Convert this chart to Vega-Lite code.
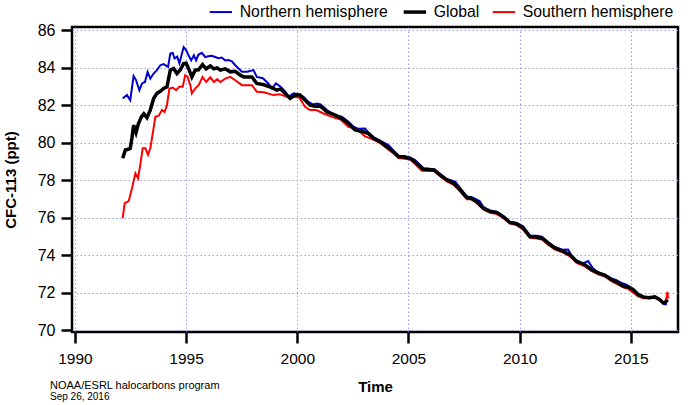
{
  "$schema": "https://vega.github.io/schema/vega-lite/v6.json",
  "width": 606,
  "height": 305,
  "autosize": {"type": "none"},
  "padding": {"left": 72, "top": 27, "right": 17, "bottom": 73},
  "config": {
    "font": "Liberation Sans",
    "view": {"stroke": "black", "strokeWidth": 2.5},
    "axis": {
      "domain": false,
      "tickColor": "black",
      "tickWidth": 2.5,
      "tickSize": 11,
      "labelColor": "black",
      "labelFont": "Liberation Sans",
      "titleFont": "Liberation Sans",
      "titleColor": "black",
      "titleFontWeight": "bold",
      "titleFontSize": 15,
      "grid": true,
      "gridColor": "#9a9af2",
      "gridWidth": 1,
      "gridDash": [1.5, 2.5]
    },
    "legend": {"padding": 0}
  },
  "title": {
    "text": "NOAA/ESRL halocarbons program",
    "subtitle": "Sep 26, 2016",
    "orient": "bottom",
    "anchor": "start",
    "frame": "group",
    "font": "Liberation Sans",
    "subtitleFont": "Liberation Sans",
    "fontSize": 11,
    "fontWeight": "normal",
    "subtitleFontSize": 10,
    "subtitlePadding": 1,
    "color": "black",
    "subtitleColor": "black",
    "dx": -22,
    "dy": -19
  },
  "data": {
    "values": [
      {"t": 1992.15, "s": "Northern hemisphere", "v": 82.37},
      {"t": 1992.34, "s": "Northern hemisphere", "v": 82.55},
      {"t": 1992.49, "s": "Northern hemisphere", "v": 82.28},
      {"t": 1992.64, "s": "Northern hemisphere", "v": 83.57},
      {"t": 1992.75, "s": "Northern hemisphere", "v": 83.35},
      {"t": 1992.9, "s": "Northern hemisphere", "v": 82.81},
      {"t": 1993.02, "s": "Northern hemisphere", "v": 83.17},
      {"t": 1993.15, "s": "Northern hemisphere", "v": 83.25},
      {"t": 1993.27, "s": "Northern hemisphere", "v": 83.79},
      {"t": 1993.39, "s": "Northern hemisphere", "v": 83.43},
      {"t": 1993.54, "s": "Northern hemisphere", "v": 83.7},
      {"t": 1993.69, "s": "Northern hemisphere", "v": 83.88},
      {"t": 1993.84, "s": "Northern hemisphere", "v": 84.14},
      {"t": 1993.99, "s": "Northern hemisphere", "v": 84.2},
      {"t": 1994.19, "s": "Northern hemisphere", "v": 84.05},
      {"t": 1994.29, "s": "Northern hemisphere", "v": 84.76},
      {"t": 1994.4, "s": "Northern hemisphere", "v": 84.8},
      {"t": 1994.48, "s": "Northern hemisphere", "v": 84.5},
      {"t": 1994.6, "s": "Northern hemisphere", "v": 84.6},
      {"t": 1994.7, "s": "Northern hemisphere", "v": 84.25},
      {"t": 1994.8, "s": "Northern hemisphere", "v": 84.7},
      {"t": 1994.89, "s": "Northern hemisphere", "v": 85.11},
      {"t": 1995.0, "s": "Northern hemisphere", "v": 84.95},
      {"t": 1995.11, "s": "Northern hemisphere", "v": 84.67},
      {"t": 1995.23, "s": "Northern hemisphere", "v": 84.4},
      {"t": 1995.35, "s": "Northern hemisphere", "v": 84.67},
      {"t": 1995.45, "s": "Northern hemisphere", "v": 84.4},
      {"t": 1995.55, "s": "Northern hemisphere", "v": 84.7},
      {"t": 1995.71, "s": "Northern hemisphere", "v": 84.8},
      {"t": 1995.86, "s": "Northern hemisphere", "v": 84.58},
      {"t": 1996.0, "s": "Northern hemisphere", "v": 84.62},
      {"t": 1996.15, "s": "Northern hemisphere", "v": 84.65},
      {"t": 1996.31, "s": "Northern hemisphere", "v": 84.58},
      {"t": 1996.45, "s": "Northern hemisphere", "v": 84.52},
      {"t": 1996.6, "s": "Northern hemisphere", "v": 84.55},
      {"t": 1996.76, "s": "Northern hemisphere", "v": 84.4},
      {"t": 1996.9, "s": "Northern hemisphere", "v": 84.42},
      {"t": 1997.06, "s": "Northern hemisphere", "v": 84.35},
      {"t": 1997.21, "s": "Northern hemisphere", "v": 84.14},
      {"t": 1997.51, "s": "Northern hemisphere", "v": 83.79},
      {"t": 1997.75, "s": "Northern hemisphere", "v": 83.8},
      {"t": 1998.03, "s": "Northern hemisphere", "v": 83.88},
      {"t": 1998.18, "s": "Northern hemisphere", "v": 83.52},
      {"t": 1998.45, "s": "Northern hemisphere", "v": 83.45},
      {"t": 1998.7, "s": "Northern hemisphere", "v": 83.17},
      {"t": 1998.86, "s": "Northern hemisphere", "v": 82.9},
      {"t": 1999.04, "s": "Northern hemisphere", "v": 83.17},
      {"t": 1999.25, "s": "Northern hemisphere", "v": 83.0},
      {"t": 1999.46, "s": "Northern hemisphere", "v": 82.73},
      {"t": 1999.61, "s": "Northern hemisphere", "v": 82.46},
      {"t": 1999.83, "s": "Northern hemisphere", "v": 82.64},
      {"t": 2000.05, "s": "Northern hemisphere", "v": 82.6},
      {"t": 2000.28, "s": "Northern hemisphere", "v": 82.46},
      {"t": 2000.5, "s": "Northern hemisphere", "v": 82.19},
      {"t": 2000.7, "s": "Northern hemisphere", "v": 82.05},
      {"t": 2000.88, "s": "Northern hemisphere", "v": 82.1},
      {"t": 2001.05, "s": "Northern hemisphere", "v": 82.05},
      {"t": 2001.33, "s": "Northern hemisphere", "v": 81.75},
      {"t": 2001.7, "s": "Northern hemisphere", "v": 81.48},
      {"t": 2002.0, "s": "Northern hemisphere", "v": 81.4},
      {"t": 2002.3, "s": "Northern hemisphere", "v": 81.13},
      {"t": 2002.53, "s": "Northern hemisphere", "v": 80.86},
      {"t": 2002.75, "s": "Northern hemisphere", "v": 80.75},
      {"t": 2003.05, "s": "Northern hemisphere", "v": 80.77},
      {"t": 2003.2, "s": "Northern hemisphere", "v": 80.55},
      {"t": 2003.45, "s": "Northern hemisphere", "v": 80.3},
      {"t": 2003.72, "s": "Northern hemisphere", "v": 80.12},
      {"t": 2004.1, "s": "Northern hemisphere", "v": 79.89},
      {"t": 2004.32, "s": "Northern hemisphere", "v": 79.6},
      {"t": 2004.55, "s": "Northern hemisphere", "v": 79.32},
      {"t": 2004.8, "s": "Northern hemisphere", "v": 79.3},
      {"t": 2005.07, "s": "Northern hemisphere", "v": 79.22},
      {"t": 2005.3, "s": "Northern hemisphere", "v": 79.09},
      {"t": 2005.67, "s": "Northern hemisphere", "v": 78.65},
      {"t": 2006.15, "s": "Northern hemisphere", "v": 78.6},
      {"t": 2006.42, "s": "Northern hemisphere", "v": 78.35},
      {"t": 2006.72, "s": "Northern hemisphere", "v": 78.08},
      {"t": 2007.1, "s": "Northern hemisphere", "v": 77.94},
      {"t": 2007.32, "s": "Northern hemisphere", "v": 77.6},
      {"t": 2007.62, "s": "Northern hemisphere", "v": 77.15},
      {"t": 2007.85, "s": "Northern hemisphere", "v": 77.1},
      {"t": 2008.2, "s": "Northern hemisphere", "v": 76.9},
      {"t": 2008.37, "s": "Northern hemisphere", "v": 76.58},
      {"t": 2008.67, "s": "Northern hemisphere", "v": 76.4},
      {"t": 2009.0, "s": "Northern hemisphere", "v": 76.32},
      {"t": 2009.26, "s": "Northern hemisphere", "v": 76.1},
      {"t": 2009.56, "s": "Northern hemisphere", "v": 75.8},
      {"t": 2009.86, "s": "Northern hemisphere", "v": 75.73},
      {"t": 2010.16, "s": "Northern hemisphere", "v": 75.55},
      {"t": 2010.46, "s": "Northern hemisphere", "v": 75.06},
      {"t": 2010.76, "s": "Northern hemisphere", "v": 75.05},
      {"t": 2011.0, "s": "Northern hemisphere", "v": 75.0},
      {"t": 2011.28, "s": "Northern hemisphere", "v": 74.72},
      {"t": 2011.58, "s": "Northern hemisphere", "v": 74.45},
      {"t": 2011.96, "s": "Northern hemisphere", "v": 74.3},
      {"t": 2012.18, "s": "Northern hemisphere", "v": 74.32},
      {"t": 2012.4, "s": "Northern hemisphere", "v": 73.85},
      {"t": 2012.56, "s": "Northern hemisphere", "v": 73.72},
      {"t": 2012.85, "s": "Northern hemisphere", "v": 73.58},
      {"t": 2013.08, "s": "Northern hemisphere", "v": 73.7},
      {"t": 2013.3, "s": "Northern hemisphere", "v": 73.3},
      {"t": 2013.53, "s": "Northern hemisphere", "v": 73.1},
      {"t": 2013.83, "s": "Northern hemisphere", "v": 72.98},
      {"t": 2014.13, "s": "Northern hemisphere", "v": 72.78},
      {"t": 2014.35, "s": "Northern hemisphere", "v": 72.68},
      {"t": 2014.55, "s": "Northern hemisphere", "v": 72.55},
      {"t": 2014.8, "s": "Northern hemisphere", "v": 72.45},
      {"t": 2015.11, "s": "Northern hemisphere", "v": 72.2},
      {"t": 2015.33, "s": "Northern hemisphere", "v": 71.95},
      {"t": 2015.56, "s": "Northern hemisphere", "v": 71.8},
      {"t": 2015.8, "s": "Northern hemisphere", "v": 71.76},
      {"t": 2016.08, "s": "Northern hemisphere", "v": 71.8},
      {"t": 2016.3, "s": "Northern hemisphere", "v": 71.62},
      {"t": 2016.5, "s": "Northern hemisphere", "v": 71.4},
      {"t": 2016.62, "s": "Northern hemisphere", "v": 71.4},
      {"t": 1992.15, "s": "Southern hemisphere", "v": 75.99},
      {"t": 1992.24, "s": "Southern hemisphere", "v": 76.79},
      {"t": 1992.42, "s": "Southern hemisphere", "v": 76.9},
      {"t": 1992.57, "s": "Southern hemisphere", "v": 77.59},
      {"t": 1992.72, "s": "Southern hemisphere", "v": 78.38},
      {"t": 1992.84, "s": "Southern hemisphere", "v": 78.12},
      {"t": 1992.94, "s": "Southern hemisphere", "v": 78.83},
      {"t": 1993.05, "s": "Southern hemisphere", "v": 79.71},
      {"t": 1993.17, "s": "Southern hemisphere", "v": 79.71},
      {"t": 1993.29, "s": "Southern hemisphere", "v": 79.36},
      {"t": 1993.4, "s": "Southern hemisphere", "v": 79.75},
      {"t": 1993.5, "s": "Southern hemisphere", "v": 80.51},
      {"t": 1993.62, "s": "Southern hemisphere", "v": 81.39},
      {"t": 1993.77, "s": "Southern hemisphere", "v": 81.45},
      {"t": 1993.92, "s": "Southern hemisphere", "v": 81.75},
      {"t": 1994.03, "s": "Southern hemisphere", "v": 81.65},
      {"t": 1994.14, "s": "Southern hemisphere", "v": 82.01},
      {"t": 1994.25, "s": "Southern hemisphere", "v": 82.9},
      {"t": 1994.4, "s": "Southern hemisphere", "v": 82.95},
      {"t": 1994.55, "s": "Southern hemisphere", "v": 82.81},
      {"t": 1994.7, "s": "Southern hemisphere", "v": 83.0},
      {"t": 1994.85, "s": "Southern hemisphere", "v": 83.0},
      {"t": 1994.96, "s": "Southern hemisphere", "v": 83.61},
      {"t": 1995.07, "s": "Southern hemisphere", "v": 83.52},
      {"t": 1995.19, "s": "Southern hemisphere", "v": 83.08},
      {"t": 1995.26, "s": "Southern hemisphere", "v": 82.64},
      {"t": 1995.41, "s": "Southern hemisphere", "v": 82.9},
      {"t": 1995.58, "s": "Southern hemisphere", "v": 83.1},
      {"t": 1995.74, "s": "Southern hemisphere", "v": 83.52},
      {"t": 1995.9, "s": "Southern hemisphere", "v": 83.25},
      {"t": 1996.09, "s": "Southern hemisphere", "v": 83.5},
      {"t": 1996.25, "s": "Southern hemisphere", "v": 83.25},
      {"t": 1996.4, "s": "Southern hemisphere", "v": 83.4},
      {"t": 1996.54, "s": "Southern hemisphere", "v": 83.25},
      {"t": 1996.76, "s": "Southern hemisphere", "v": 83.43},
      {"t": 1996.99, "s": "Southern hemisphere", "v": 83.52},
      {"t": 1997.21, "s": "Southern hemisphere", "v": 83.34},
      {"t": 1997.51, "s": "Southern hemisphere", "v": 83.08},
      {"t": 1997.96, "s": "Southern hemisphere", "v": 83.08},
      {"t": 1998.18, "s": "Southern hemisphere", "v": 82.73},
      {"t": 1998.5, "s": "Southern hemisphere", "v": 82.7},
      {"t": 1998.93, "s": "Southern hemisphere", "v": 82.55},
      {"t": 1999.2, "s": "Southern hemisphere", "v": 82.6},
      {"t": 1999.53, "s": "Southern hemisphere", "v": 82.46},
      {"t": 1999.9, "s": "Southern hemisphere", "v": 82.46},
      {"t": 2000.1, "s": "Southern hemisphere", "v": 82.4},
      {"t": 2000.35, "s": "Southern hemisphere", "v": 81.92},
      {"t": 2000.57, "s": "Southern hemisphere", "v": 81.75},
      {"t": 2000.85, "s": "Southern hemisphere", "v": 81.75},
      {"t": 2001.18, "s": "Southern hemisphere", "v": 81.57},
      {"t": 2001.55, "s": "Southern hemisphere", "v": 81.39},
      {"t": 2001.95, "s": "Southern hemisphere", "v": 81.25},
      {"t": 2002.3, "s": "Southern hemisphere", "v": 80.86},
      {"t": 2002.55, "s": "Southern hemisphere", "v": 80.78},
      {"t": 2002.75, "s": "Southern hemisphere", "v": 80.65},
      {"t": 2003.05, "s": "Southern hemisphere", "v": 80.35},
      {"t": 2003.42, "s": "Southern hemisphere", "v": 80.18},
      {"t": 2003.72, "s": "Southern hemisphere", "v": 80.0},
      {"t": 2004.02, "s": "Southern hemisphere", "v": 79.72},
      {"t": 2004.32, "s": "Southern hemisphere", "v": 79.45},
      {"t": 2004.55, "s": "Southern hemisphere", "v": 79.2},
      {"t": 2004.85, "s": "Southern hemisphere", "v": 79.15},
      {"t": 2005.1, "s": "Southern hemisphere", "v": 79.1},
      {"t": 2005.37, "s": "Southern hemisphere", "v": 78.8},
      {"t": 2005.6, "s": "Southern hemisphere", "v": 78.52},
      {"t": 2006.15, "s": "Southern hemisphere", "v": 78.5},
      {"t": 2006.42, "s": "Southern hemisphere", "v": 78.22},
      {"t": 2006.72, "s": "Southern hemisphere", "v": 77.95},
      {"t": 2007.02, "s": "Southern hemisphere", "v": 77.78},
      {"t": 2007.32, "s": "Southern hemisphere", "v": 77.42},
      {"t": 2007.62, "s": "Southern hemisphere", "v": 77.0},
      {"t": 2007.85, "s": "Southern hemisphere", "v": 77.0},
      {"t": 2008.07, "s": "Southern hemisphere", "v": 76.8},
      {"t": 2008.37, "s": "Southern hemisphere", "v": 76.45},
      {"t": 2008.67, "s": "Southern hemisphere", "v": 76.28},
      {"t": 2008.95, "s": "Southern hemisphere", "v": 76.22},
      {"t": 2009.26, "s": "Southern hemisphere", "v": 76.0},
      {"t": 2009.56, "s": "Southern hemisphere", "v": 75.7},
      {"t": 2009.86, "s": "Southern hemisphere", "v": 75.62},
      {"t": 2010.16, "s": "Southern hemisphere", "v": 75.38},
      {"t": 2010.46, "s": "Southern hemisphere", "v": 74.94},
      {"t": 2010.76, "s": "Southern hemisphere", "v": 74.9},
      {"t": 2011.0, "s": "Southern hemisphere", "v": 74.85},
      {"t": 2011.28, "s": "Southern hemisphere", "v": 74.58},
      {"t": 2011.58, "s": "Southern hemisphere", "v": 74.33},
      {"t": 2011.96, "s": "Southern hemisphere", "v": 74.15},
      {"t": 2012.26, "s": "Southern hemisphere", "v": 73.95},
      {"t": 2012.56, "s": "Southern hemisphere", "v": 73.6},
      {"t": 2012.93, "s": "Southern hemisphere", "v": 73.42},
      {"t": 2013.23, "s": "Southern hemisphere", "v": 73.18},
      {"t": 2013.53, "s": "Southern hemisphere", "v": 73.0},
      {"t": 2013.83, "s": "Southern hemisphere", "v": 72.88},
      {"t": 2014.13, "s": "Southern hemisphere", "v": 72.63},
      {"t": 2014.43, "s": "Southern hemisphere", "v": 72.45},
      {"t": 2014.66, "s": "Southern hemisphere", "v": 72.3},
      {"t": 2014.88, "s": "Southern hemisphere", "v": 72.22},
      {"t": 2015.11, "s": "Southern hemisphere", "v": 72.02},
      {"t": 2015.33, "s": "Southern hemisphere", "v": 71.82},
      {"t": 2015.56, "s": "Southern hemisphere", "v": 71.72},
      {"t": 2015.8, "s": "Southern hemisphere", "v": 71.72},
      {"t": 2016.08, "s": "Southern hemisphere", "v": 71.75},
      {"t": 2016.3, "s": "Southern hemisphere", "v": 71.6},
      {"t": 2016.45, "s": "Southern hemisphere", "v": 71.52},
      {"t": 2016.58, "s": "Southern hemisphere", "v": 71.55},
      {"t": 2016.64, "s": "Southern hemisphere", "v": 72.06},
      {"t": 2016.68, "s": "Southern hemisphere", "v": 71.7},
      {"t": 1992.15, "s": "Global", "v": 79.18},
      {"t": 1992.27, "s": "Global", "v": 79.62},
      {"t": 1992.4, "s": "Global", "v": 79.66},
      {"t": 1992.49, "s": "Global", "v": 79.71},
      {"t": 1992.57, "s": "Global", "v": 80.3},
      {"t": 1992.64, "s": "Global", "v": 80.95},
      {"t": 1992.75, "s": "Global", "v": 80.55},
      {"t": 1992.85, "s": "Global", "v": 81.0},
      {"t": 1992.99, "s": "Global", "v": 81.39},
      {"t": 1993.1, "s": "Global", "v": 81.55},
      {"t": 1993.24, "s": "Global", "v": 81.35},
      {"t": 1993.39, "s": "Global", "v": 81.75},
      {"t": 1993.54, "s": "Global", "v": 82.37},
      {"t": 1993.69, "s": "Global", "v": 82.64},
      {"t": 1993.84, "s": "Global", "v": 82.75},
      {"t": 1993.99, "s": "Global", "v": 82.9},
      {"t": 1994.14, "s": "Global", "v": 82.99},
      {"t": 1994.29, "s": "Global", "v": 83.88},
      {"t": 1994.44, "s": "Global", "v": 83.97},
      {"t": 1994.59, "s": "Global", "v": 83.7},
      {"t": 1994.74, "s": "Global", "v": 83.9},
      {"t": 1994.89, "s": "Global", "v": 84.23},
      {"t": 1995.0, "s": "Global", "v": 84.25},
      {"t": 1995.11, "s": "Global", "v": 83.97},
      {"t": 1995.26, "s": "Global", "v": 83.52},
      {"t": 1995.41, "s": "Global", "v": 83.88},
      {"t": 1995.56, "s": "Global", "v": 83.9},
      {"t": 1995.74, "s": "Global", "v": 84.18},
      {"t": 1995.9, "s": "Global", "v": 83.95},
      {"t": 1996.09, "s": "Global", "v": 84.1},
      {"t": 1996.25, "s": "Global", "v": 83.95},
      {"t": 1996.4, "s": "Global", "v": 84.0},
      {"t": 1996.54, "s": "Global", "v": 83.88},
      {"t": 1996.76, "s": "Global", "v": 83.95},
      {"t": 1996.99, "s": "Global", "v": 83.79},
      {"t": 1997.21, "s": "Global", "v": 83.82},
      {"t": 1997.44, "s": "Global", "v": 83.61},
      {"t": 1997.6, "s": "Global", "v": 83.52},
      {"t": 1997.96, "s": "Global", "v": 83.52},
      {"t": 1998.18, "s": "Global", "v": 83.17},
      {"t": 1998.5, "s": "Global", "v": 83.1},
      {"t": 1998.86, "s": "Global", "v": 82.95},
      {"t": 1999.08, "s": "Global", "v": 82.81},
      {"t": 1999.25, "s": "Global", "v": 82.88},
      {"t": 1999.46, "s": "Global", "v": 82.64},
      {"t": 1999.68, "s": "Global", "v": 82.37},
      {"t": 1999.9, "s": "Global", "v": 82.55},
      {"t": 2000.12, "s": "Global", "v": 82.55},
      {"t": 2000.35, "s": "Global", "v": 82.28},
      {"t": 2000.57, "s": "Global", "v": 82.01},
      {"t": 2000.8, "s": "Global", "v": 81.95},
      {"t": 2001.05, "s": "Global", "v": 81.95},
      {"t": 2001.33, "s": "Global", "v": 81.66},
      {"t": 2001.7, "s": "Global", "v": 81.48},
      {"t": 2002.0, "s": "Global", "v": 81.31},
      {"t": 2002.3, "s": "Global", "v": 81.04},
      {"t": 2002.6, "s": "Global", "v": 80.69},
      {"t": 2002.97, "s": "Global", "v": 80.6},
      {"t": 2003.2, "s": "Global", "v": 80.5},
      {"t": 2003.42, "s": "Global", "v": 80.25},
      {"t": 2003.72, "s": "Global", "v": 80.07},
      {"t": 2004.02, "s": "Global", "v": 79.8},
      {"t": 2004.32, "s": "Global", "v": 79.53},
      {"t": 2004.55, "s": "Global", "v": 79.27},
      {"t": 2004.8, "s": "Global", "v": 79.25},
      {"t": 2005.07, "s": "Global", "v": 79.18},
      {"t": 2005.37, "s": "Global", "v": 78.91},
      {"t": 2005.67, "s": "Global", "v": 78.6},
      {"t": 2006.15, "s": "Global", "v": 78.56},
      {"t": 2006.42, "s": "Global", "v": 78.29},
      {"t": 2006.72, "s": "Global", "v": 78.03},
      {"t": 2007.02, "s": "Global", "v": 77.85},
      {"t": 2007.32, "s": "Global", "v": 77.5},
      {"t": 2007.62, "s": "Global", "v": 77.1},
      {"t": 2007.8, "s": "Global", "v": 77.05},
      {"t": 2008.07, "s": "Global", "v": 76.87},
      {"t": 2008.37, "s": "Global", "v": 76.52},
      {"t": 2008.67, "s": "Global", "v": 76.34},
      {"t": 2008.95, "s": "Global", "v": 76.3},
      {"t": 2009.26, "s": "Global", "v": 76.07},
      {"t": 2009.56, "s": "Global", "v": 75.76},
      {"t": 2009.86, "s": "Global", "v": 75.69},
      {"t": 2010.16, "s": "Global", "v": 75.46},
      {"t": 2010.46, "s": "Global", "v": 75.01},
      {"t": 2010.76, "s": "Global", "v": 74.98},
      {"t": 2011.0, "s": "Global", "v": 74.92},
      {"t": 2011.28, "s": "Global", "v": 74.66},
      {"t": 2011.58, "s": "Global", "v": 74.4},
      {"t": 2011.96, "s": "Global", "v": 74.22},
      {"t": 2012.26, "s": "Global", "v": 74.04},
      {"t": 2012.56, "s": "Global", "v": 73.69},
      {"t": 2012.93, "s": "Global", "v": 73.51},
      {"t": 2013.23, "s": "Global", "v": 73.24},
      {"t": 2013.53, "s": "Global", "v": 73.07},
      {"t": 2013.83, "s": "Global", "v": 72.94},
      {"t": 2014.13, "s": "Global", "v": 72.71},
      {"t": 2014.43, "s": "Global", "v": 72.54},
      {"t": 2014.66, "s": "Global", "v": 72.36},
      {"t": 2014.88, "s": "Global", "v": 72.32},
      {"t": 2015.11, "s": "Global", "v": 72.18},
      {"t": 2015.33, "s": "Global", "v": 71.91},
      {"t": 2015.56, "s": "Global", "v": 71.79},
      {"t": 2015.8, "s": "Global", "v": 71.75},
      {"t": 2016.08, "s": "Global", "v": 71.79},
      {"t": 2016.3, "s": "Global", "v": 71.65},
      {"t": 2016.45, "s": "Global", "v": 71.47},
      {"t": 2016.55, "s": "Global", "v": 71.5},
      {"t": 2016.65, "s": "Global", "v": 71.65}
    ]
  },
  "encoding": {
    "x": {
      "field": "t",
      "type": "quantitative",
      "scale": {"domain": [1989.87, 2017.12], "nice": false, "zero": false},
      "axis": {
        "title": "Time",
        "values": [1990, 1995, 2000, 2005, 2010, 2015],
        "format": "d",
        "labelFontSize": 15.5,
        "labelPadding": 8,
        "titlePadding": 13
      }
    },
    "y": {
      "field": "v",
      "type": "quantitative",
      "scale": {"domain": [69.92, 86.18], "nice": false, "zero": false},
      "axis": {
        "title": "CFC-113 (ppt)",
        "values": [70, 72, 74, 76, 78, 80, 82, 84, 86],
        "labelFontSize": 16,
        "labelPadding": 6,
        "titlePadding": 19
      }
    },
    "color": {
      "field": "s",
      "type": "nominal",
      "scale": {
        "domain": ["Northern hemisphere", "Global", "Southern hemisphere"],
        "range": ["#0000cc", "#000000", "#ff0000"]
      },
      "legend": {
        "title": null,
        "orient": "none",
        "legendX": 141,
        "legendY": -23,
        "direction": "horizontal",
        "symbolType": "stroke",
        "symbolSize": 500,
        "labelFontSize": 15.75,
        "labelColor": "black",
        "labelOffset": 11,
        "columnPadding": 8,
        "encode": {
          "symbols": {
            "update": {
              "strokeWidth": {"signal": "datum.value === 'Global' ? 3.5 : 2"}
            }
          }
        }
      }
    }
  },
  "layer": [
    {
      "transform": [{"filter": "datum.s !== 'Global'"}],
      "mark": {"type": "line", "strokeWidth": 2}
    },
    {
      "transform": [{"filter": "datum.s === 'Global'"}],
      "mark": {"type": "line", "strokeWidth": 3.5}
    }
  ]
}
